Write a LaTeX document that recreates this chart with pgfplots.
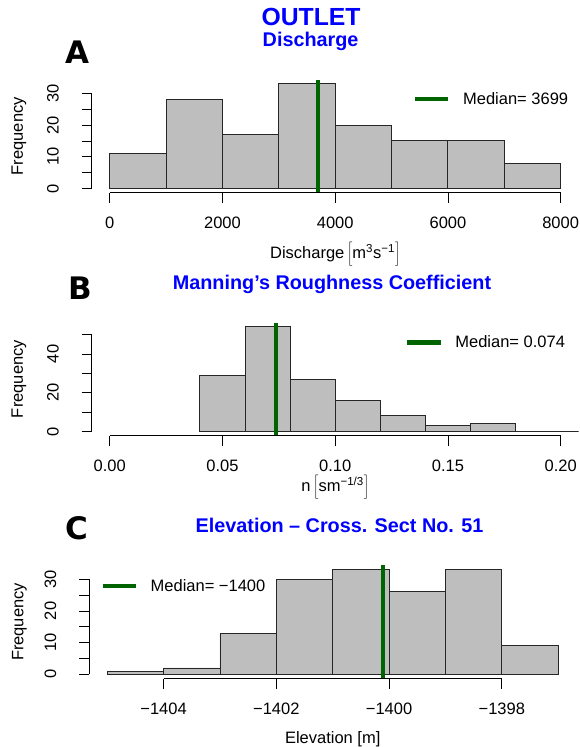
\documentclass[border=0pt]{standalone}
\usepackage{pgfplots}
\pgfplotsset{compat=1.18}
\usepackage{fontspec}
\setmainfont{Liberation Sans}
\newfontfamily\letterfont{DejaVu Sans}
\definecolor{histgray}{RGB}{190,190,190}
\definecolor{medgreen}{RGB}{0,100,0}
\definecolor{titleblue}{RGB}{0,0,255}
\newcommand\bfont{\fontsize{16.5pt}{19pt}\selectfont}
\pgfplotsset{
  rhist/.style={
    scale only axis, width=487pt, height=113pt, anchor=south west,
    axis lines*=left, axis line style={draw=none,-},
    tick align=outside, major tick length=10pt,
    tick style={black, line width=0.8pt},
    tick label style={font=\bfont},
    xticklabel style={anchor=base, yshift=-25.5pt},
    yticklabel style={xshift=-28.7pt, rotate=90, anchor=center},
    label style={font=\bfont},
    clip=false,
    legend style={draw=none, fill=none, font=\bfont, inner sep=0pt, anchor=west,
      nodes={inner sep=0pt}, /tikz/column sep=12.5pt},
    legend image code/.code={\draw[#1] (0pt,0pt) -- (33.3pt,0pt);},
  },
  histbar/.style={ybar interval, fill=histgray, draw=black!85, line width=0.9pt},
  medline/.style={medgreen, line width=4.5pt},
}
\begin{document}
\begin{tikzpicture}
\useasboundingbox (0,0) rectangle (579pt,747pt);
% titles
\node[anchor=base, text=titleblue, font=\fontsize{24.75pt}{28pt}\selectfont\bfseries] at (311pt,721pt) {OUTLET};
\node[anchor=base, text=titleblue, font=\fontsize{19.8pt}{23pt}\selectfont\bfseries] at (310.6pt,700.3pt) {Discharge};
\node[anchor=base, text=titleblue, font=\fontsize{19.8pt}{23pt}\selectfont\bfseries] at (332pt,457pt) {Manning{\char"0027}s Roughness Coefficient};
\node[anchor=base, text=titleblue, font=\fontsize{19.8pt}{23pt}\selectfont\bfseries] at (339.5pt,214pt) {Elevation -- Cross. Sect No. 51};
% panel letters
\node[anchor=base, font=\fontsize{31pt}{34pt}\letterfont\bfseries] at (77.5pt,683.7pt) {A};
\node[anchor=base, font=\fontsize{31pt}{34pt}\letterfont\bfseries] at (80.3pt,447pt) {B};
\node[anchor=base, font=\fontsize{31pt}{34pt}\letterfont\bfseries] at (76.6pt,207pt) {C};

% ---------------- Panel A
\begin{axis}[rhist, at={(91.7pt,554.3pt)},
  xmin=-320, xmax=8320, ymin=-1.32, ymax=34.32,
  xtick={0,2000,4000,6000,8000}, xticklabels={0,2000,4000,6000,8000},
  ytick={0,5,10,15,20,25,30}, yticklabels={0,,10,,20,,30},
  xlabel={Discharge\,$\bigg[$m\textsuperscript{3}s\textsuperscript{−1}$\bigg]$},
  xlabel style={at={(rel axis cs:0.5,0)}, anchor=base, yshift=-65.6pt},
  ylabel={Frequency},
  ylabel style={at={([xshift=-72.7pt]rel axis cs:0,0.5)}, anchor=center},
  legend style={at={(0.6590,0.829)}}]
\addplot[histbar, forget plot] coordinates {(0,11) (1000,28) (2000,17) (3000,33) (4000,20) (5000,15) (6000,15) (7000,8) (8000,8)};
\addplot[medline] coordinates {(3699,-1.32) (3699,34.32)};
\addlegendentry{Median= 3699}
\draw[line width=0.8pt] (axis cs:0,-1.32) -- (axis cs:8000,-1.32);
\draw[line width=0.8pt] (axis cs:-320,0) -- (axis cs:-320,30);
\end{axis}

% ---------------- Panel B
\begin{axis}[rhist, at={(91.7pt,311.4pt)},
  xmin=-0.008, xmax=0.208, ymin=-2.16, ymax=56.16,
  xtick={0,0.05,0.1,0.15,0.2}, xticklabels={0.00,0.05,0.10,0.15,0.20},
  ytick={0,10,20,30,40,50}, yticklabels={0,,20,,40,},
  xlabel={n\,$\bigg[$sm\textsuperscript{−1/3}$\bigg]$},
  xlabel style={at={(rel axis cs:0.5,0)}, anchor=base, yshift=-56.1pt},
  ylabel={Frequency},
  ylabel style={at={([xshift=-72.7pt]rel axis cs:0,0.5)}, anchor=center},
  legend style={at={(0.6430,0.822)}}]
\addplot[histbar, forget plot] coordinates {(0.04,29) (0.06,54) (0.08,27) (0.10,16) (0.12,8) (0.14,3) (0.16,4) (0.18,0) (0.20,0) (0.208,0)};
\addplot[medline] coordinates {(0.0737,-2.16) (0.0737,56.16)};
\addlegendentry{Median= 0.074}
\draw[line width=0.8pt] (axis cs:0,-2.16) -- (axis cs:0.2,-2.16);
\draw[line width=0.8pt] (axis cs:-0.008,0) -- (axis cs:-0.008,50);
\end{axis}

% ---------------- Panel C
\begin{axis}[rhist, at={(89.2pt,68.5pt)},
  xmin=-1405.32, xmax=-1396.68, ymin=-1.32, ymax=34.32,
  xtick={-1404,-1402,-1400,-1398}, xticklabels={−1404,−1402,−1400,−1398},
  ytick={0,5,10,15,20,25,30}, yticklabels={0,,10,,20,,30},
  xlabel={Elevation [m]},
  xlabel style={at={(rel axis cs:0.5,0)}, anchor=base, yshift=-64.8pt},
  ylabel={Frequency},
  ylabel style={at={([xshift=-69.8pt]rel axis cs:0,0.5)}, anchor=center},
  legend style={at={(0.0225,0.819)}}]
\addplot[histbar, forget plot] coordinates {(-1405,1) (-1404,2) (-1403,13) (-1402,30) (-1401,33) (-1400,26) (-1399,33) (-1398,9) (-1397,9)};
\addplot[medline] coordinates {(-1400.11,-1.32) (-1400.11,34.32)};
\addlegendentry{Median= −1400}
\draw[line width=0.8pt] (axis cs:-1404,-1.32) -- (axis cs:-1398,-1.32);
\draw[line width=0.8pt] (axis cs:-1405.32,0) -- (axis cs:-1405.32,30);
\end{axis}
\end{tikzpicture}
\end{document}
